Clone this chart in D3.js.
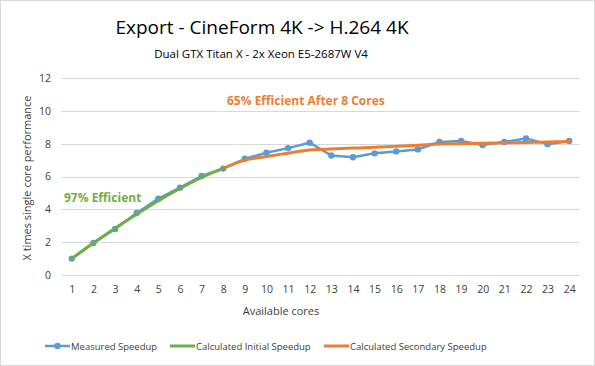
<!DOCTYPE html>
<html>
<head>
<meta charset="utf-8">
<script src="https://cdn.jsdelivr.net/npm/d3@7"></script>
<style>
  body { margin: 0; background: #fff; }
  svg { font-family: "Open Sans", sans-serif; }
</style>
</head>
<body>
<div id="chart"></div>
<script>
// chart data
var cores = d3.range(1, 25);
var measured = [1.0, 1.95, 2.8, 3.78, 4.65, 5.32, 6.03, 6.48, 7.08, 7.45, 7.73, 8.06,
                7.28, 7.17, 7.41, 7.53, 7.65, 8.1, 8.16, 7.92, 8.1, 8.32, 7.97, 8.16];
var initialX = [1, 2, 3, 4, 5, 6, 7, 8];
var initial = [1.0, 1.95, 2.85, 3.7, 4.52, 5.27, 5.95, 6.5];
var secondaryX = d3.range(8, 25);
var secondary = [6.5, 7.0, 7.22, 7.42, 7.62, 7.68, 7.73, 7.78, 7.84, 7.9, 7.98, 8.0,
                 8.02, 8.05, 8.07, 8.1, 8.13];
var yTicks = [0, 2, 4, 6, 8, 10, 12];

var W = 595, H = 366;
var m = {left: 61, right: 15, top: 78, bottom: 91};

var svg = d3.select('#chart').append('svg')
        .attr('width', W)
        .attr('height', H);

svg.append('rect')
        .attr('x', 0.5).attr('y', 0.5)
        .attr('width', W - 1).attr('height', H - 1)
        .attr('fill', '#fff')
        .attr('stroke', '#d9d9d9');

var x = d3.scalePoint()
        .domain(cores)
        .range([m.left, W - m.right])
        .padding(0.5);
var y = d3.scaleLinear()
        .domain([0, 12])
        .range([H - m.bottom, m.top]);

// gridlines
svg.append('g').selectAll('line')
        .data(yTicks).enter()
        .append('line')
        .attr('x1', m.left).attr('x2', W - m.right)
        .attr('y1', d => Math.round(y(d)) + 0.5)
        .attr('y2', d => Math.round(y(d)) + 0.5)
        .attr('stroke', '#d9d9d9');

// axes
var yAxis = svg.append('g')
        .attr('transform', 'translate(' + m.left + ',0)')
        .call(d3.axisLeft(y).tickValues(yTicks).tickSize(0).tickPadding(10));
var xAxis = svg.append('g')
        .attr('transform', 'translate(0,' + (H - m.bottom) + ')')
        .call(d3.axisBottom(x).tickSize(0).tickPadding(11));
[yAxis, xAxis].forEach(function(a) {
    a.select('.domain').remove();
    a.selectAll('text')
            .attr('font-family', '"Open Sans", sans-serif')
            .attr('font-size', 10.5)
            .attr('fill', '#404040');
});

var line = d3.line()
        .x(d => x(d[0]))
        .y(d => y(d[1]));

// measured speedup
var mData = cores.map((c, i) => [c, measured[i]]);
svg.append('path')
        .datum(mData)
        .attr('d', line)
        .attr('fill', 'none')
        .attr('stroke', '#5b9bd5')
        .attr('stroke-width', 2.5)
        .attr('stroke-linejoin', 'round');
svg.append('g').selectAll('circle')
        .data(mData).enter()
        .append('circle')
        .attr('cx', d => x(d[0]))
        .attr('cy', d => y(d[1]))
        .attr('r', 3.2)
        .attr('fill', '#5b9bd5');

// calculated lines
svg.append('path')
        .datum(secondaryX.map((c, i) => [c, secondary[i]]))
        .attr('d', line.curve(d3.curveMonotoneX))
        .attr('fill', 'none')
        .attr('stroke', '#ed7d31')
        .attr('stroke-width', 3)
        .attr('stroke-linecap', 'round');
svg.append('path')
        .datum(initialX.map((c, i) => [c, initial[i]]))
        .attr('d', line.curve(d3.curveMonotoneX))
        .attr('fill', 'none')
        .attr('stroke', '#70ad47')
        .attr('stroke-width', 3)
        .attr('stroke-linecap', 'round');

// annotations
svg.append('text')
        .attr('x', 64).attr('y', 202)
        .attr('font-size', 12).attr('font-weight', 'bold')
        .attr('fill', '#70ad47')
        .text('97% Efficient');
svg.append('text')
        .attr('x', 227).attr('y', 105)
        .attr('font-size', 12).attr('font-weight', 'bold')
        .attr('fill', '#ed7d31')
        .text('65% Efficient After 8 Cores');

// titles
svg.append('text')
        .attr('x', 262).attr('y', 34)
        .attr('text-anchor', 'middle')
        .attr('font-size', 19)
        .attr('fill', '#000')
        .text('Export - CineForm 4K -> H.264 4K');
svg.append('text')
        .attr('x', 261).attr('y', 58)
        .attr('text-anchor', 'middle')
        .attr('font-size', 11.5)
        .attr('fill', '#000')
        .text('Dual GTX Titan X - 2x Xeon E5-2687W  V4');
svg.append('text')
        .attr('x', 281).attr('y', 315)
        .attr('text-anchor', 'middle')
        .attr('font-size', 11)
        .attr('fill', '#404040')
        .text('Available cores');
svg.append('text')
        .attr('transform', 'translate(31,178) rotate(-90)')
        .attr('text-anchor', 'middle')
        .attr('font-size', 11)
        .attr('fill', '#404040')
        .text('X times single core performance');

// legend
var legend = [
    {name: 'Measured Speedup', color: '#5b9bd5', marker: true, x: 45},
    {name: 'Calculated Initial Speedup', color: '#70ad47', marker: false, x: 170},
    {name: 'Calculated Secondary Speedup', color: '#ed7d31', marker: false, x: 324}
];
var lg = svg.append('g').selectAll('g')
        .data(legend).enter()
        .append('g')
        .attr('transform', d => 'translate(' + d.x + ',346)');
lg.append('line')
        .attr('x1', 0).attr('x2', 25)
        .attr('stroke', d => d.color)
        .attr('stroke-width', d => d.marker ? 2.5 : 3);
lg.filter(d => d.marker).append('circle')
        .attr('cx', 12.5).attr('r', 3.2)
        .attr('fill', d => d.color);
lg.append('text')
        .attr('x', 26).attr('y', 3.5)
        .attr('font-size', 9.5)
        .attr('fill', '#404040')
        .text(d => d.name);
</script>
</body>
</html>
